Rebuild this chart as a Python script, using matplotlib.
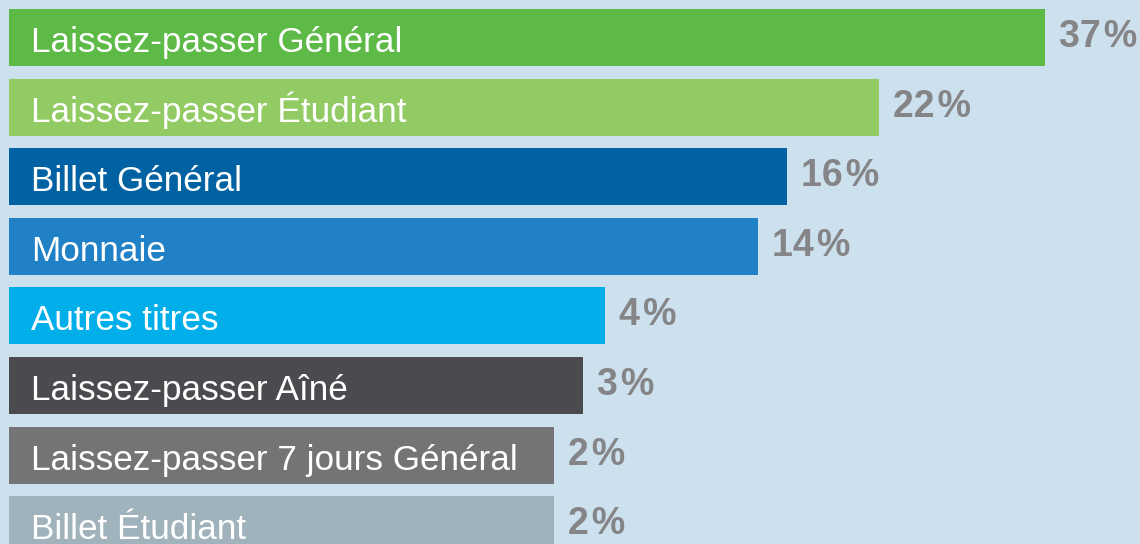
import matplotlib
matplotlib.use("Agg")
import matplotlib.pyplot as plt

categories = ["Laissez-passer Général", "Laissez-passer Étudiant", "Billet Général",
              "Monnaie", "Autres titres", "Laissez-passer Aîné",
              "Laissez-passer 7 jours Général", "Billet Étudiant"]
percent_labels = ["37\u200a%", "22\u200a%", "16\u200a%", "14\u200a%", "4\u200a%",
                  "3\u200a%", "2\u200a%", "2\u200a%"]
# displayed bar lengths (chart scale)
bar_lengths = [1036, 870, 778, 749, 596, 574, 545, 545]
colors = ["#5dba47", "#92cb63", "#0062a3", "#2181c6", "#00aeea",
          "#4b4b4f", "#747477", "#a0b2bb"]

W, H = 1140, 544
fig = plt.figure(figsize=(W / 100, H / 100), dpi=100)
fig.patch.set_facecolor("#cde0ee")
ax = fig.add_axes([0, 0, 1, 1])
ax.set_facecolor("#cde0ee")

pitch = 69.6
ypos = list(range(len(categories)))
ax.barh(ypos, bar_lengths, height=57 / pitch, color=colors, left=0)
ax.set_xlim(-9, W - 9)
ax.set_ylim((H - 37.5) / pitch, -37.5 / pitch)
ax.axis("off")

font = ["Liberation Sans", "DejaVu Sans"]
for i, (cat, lab, L) in enumerate(zip(categories, percent_labels, bar_lengths)):
    ax.text(22, i + 14.5 / pitch, cat, color="white", fontsize=25.3,
            family=font, va="baseline", ha="left")
    ax.text(L + 14, i + 9.5 / pitch, lab, color="#858587", fontsize=27,
            family=font, fontweight="bold", va="baseline", ha="left")

fig.savefig("out.png", dpi=100, facecolor=fig.get_facecolor())
